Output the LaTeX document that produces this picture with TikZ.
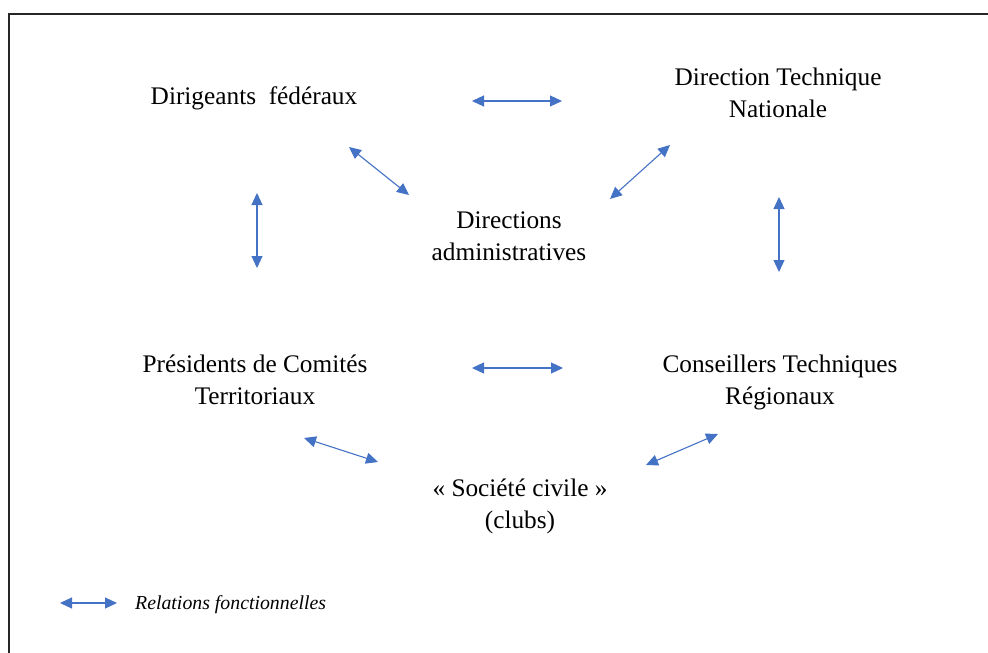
\documentclass[tikz,border=0pt]{standalone}
\usepackage{fontspec}
\setmainfont{Liberation Serif}
\usetikzlibrary{arrows.meta}
\definecolor{arrblue}{HTML}{4472C4}
\tikzset{
  lbl/.style={align=center,font=\fontsize{25.3}{32}\selectfont,inner sep=0pt},
  rel/.style={draw=arrblue,line width=1.1pt,{Triangle[length=12pt,width=11pt]}-{Triangle[length=12pt,width=11pt]}},
}
\begin{document}
\begin{tikzpicture}[x=1pt,y=-1pt]
\useasboundingbox (0,0) rectangle (988,653);
\draw[line width=2pt,black!85] (8.5,700) -- (8.5,13.5) -- (1000,13.5);
\node[lbl] (dir) at (254,98) {Dirigeants\ \ fédéraux};
\node[lbl] (dtn) at (778,93) {Direction Technique\\Nationale};
\node[lbl] (adm) at (509,236) {Directions\\administratives};
\node[lbl] (pct) at (255,380) {Présidents de Comités\\Territoriaux};
\node[lbl] (ctr) at (780,382) {Conseillers Techniques\\Régionaux};
\node[lbl] (soc) at (520,506) {« Société civile »\\(clubs)};
\node[font=\fontsize{19.8}{24}\selectfont\itshape,anchor=west,inner sep=0pt] (leg) at (135,605) {Relations fonctionnelles};
\coordinate (a1) at (472,101); \coordinate (a2) at (562,101);
\coordinate (b1) at (349,147); \coordinate (b2) at (409,195);
\coordinate (c1) at (670,145); \coordinate (c2) at (610,199);
\coordinate (d1) at (257,193); \coordinate (d2) at (257,268);
\coordinate (e1) at (779,197); \coordinate (e2) at (779,272);
\coordinate (f1) at (472,368); \coordinate (f2) at (563,368);
\coordinate (g1) at (304,438); \coordinate (g2) at (378,462);
\coordinate (h1) at (718,434); \coordinate (h2) at (646,465);
\coordinate (l1) at (60,603); \coordinate (l2) at (117,603);
\foreach \p in {a,b,c,d,e,f,g,h,l} {\draw[rel] (\p1) -- (\p2);}
\end{tikzpicture}
\end{document}
